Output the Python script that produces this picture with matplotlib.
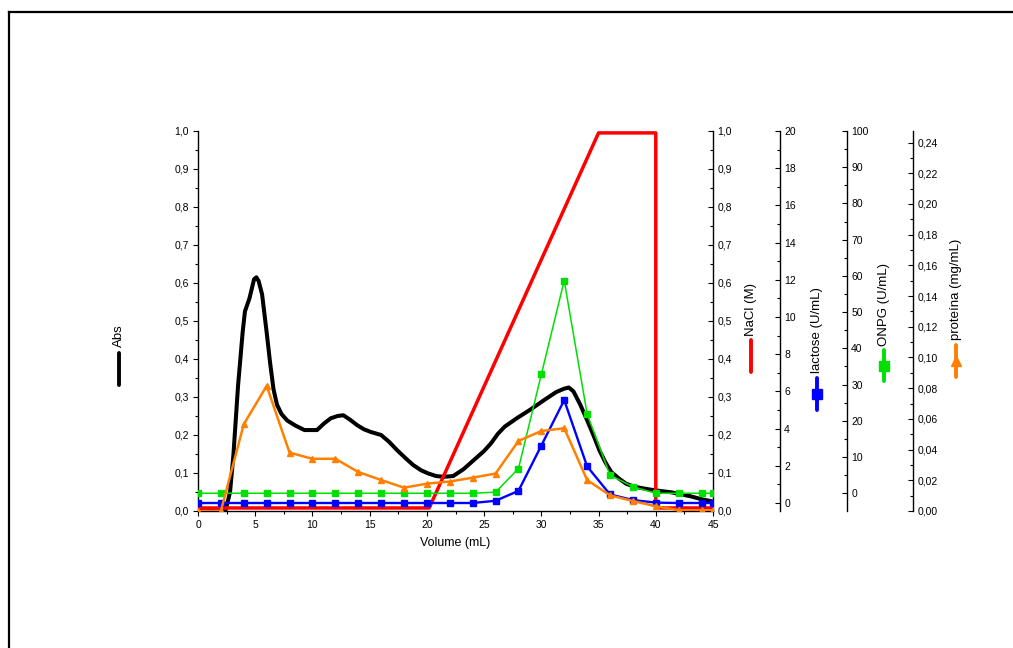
import matplotlib
matplotlib.use("Agg")
import matplotlib.pyplot as plt
from matplotlib.lines import Line2D
from matplotlib.ticker import MultipleLocator, FuncFormatter

plt.rcParams["font.family"] = ["Liberation Sans", "DejaVu Sans"]
plt.rcParams["font.size"] = 7.5

# ── data ────────────────────────────────────────────────────────────────────
abs_x = [0, 2.4, 2.8, 3.1, 3.5, 3.9, 4.1, 4.5, 4.9, 5.1, 5.3, 5.6, 6.0, 6.3, 6.6,
         6.9, 7.3, 7.8, 8.5, 9.3, 10.4, 11.0, 11.6, 12.2, 12.7, 13.3, 13.9, 14.5,
         15.1, 16.0, 16.7, 17.4, 18.1, 18.8, 19.5, 20.1, 20.8, 21.5, 22.3, 23.2,
         24.1, 25.0, 25.6, 26.2, 26.8, 27.9, 29.0, 30.2, 31.3, 32.0, 32.4, 32.8,
         33.4, 34.0, 34.6, 35.1, 35.6, 36.1, 36.8, 37.4, 38.1, 39.0, 39.8, 40.6,
         41.4, 42.0, 43.0, 44.0, 45.0]
abs_y = [0.0, 0.0, 0.05, 0.15, 0.33, 0.47, 0.525, 0.56, 0.61, 0.615, 0.605, 0.57,
         0.47, 0.39, 0.32, 0.28, 0.255, 0.238, 0.225, 0.213, 0.213, 0.23, 0.244,
         0.25, 0.252, 0.24, 0.226, 0.215, 0.208, 0.2, 0.182, 0.16, 0.14, 0.121,
         0.107, 0.099, 0.092, 0.09, 0.092, 0.11, 0.134, 0.158, 0.178, 0.203, 0.222,
         0.245, 0.266, 0.291, 0.313, 0.322, 0.325, 0.315, 0.28, 0.239, 0.196,
         0.158, 0.128, 0.103, 0.085, 0.072, 0.064, 0.059, 0.055, 0.052, 0.049,
         0.045, 0.039, 0.031, 0.025]

nacl_x = [0, 20.2, 35, 40, 40, 45]
nacl_y = [0.008, 0.008, 0.995, 0.995, 0.008, 0.008]

frac_x = [0, 2, 4, 6, 8, 10, 12, 14, 16, 18, 20, 22, 24, 26, 28, 30, 32, 34, 36,
          38, 40, 42, 44, 45]
lactose = [0, 0, 0, 0, 0, 0, 0, 0, 0, 0, 0, 0, 0, 0.12, 0.65, 3.09, 5.53, 1.97,
           0.46, 0.16, 0.02, 0, 0, 0]
onpg = [0, 0, 0, 0, 0, 0, 0, 0, 0, 0, 0, 0, 0, 0.3, 6.8, 32.8, 58.7, 21.9, 5.0,
        1.8, 0, 0, 0, 0]
proteina = [0.0, 0.0, 0.0565, 0.0815, 0.038, 0.034, 0.034, 0.0254, 0.0202, 0.0152,
            0.0178, 0.0192, 0.0217, 0.0244, 0.0456, 0.0521, 0.0539, 0.0202, 0.0102,
            0.0065, 0.0031, 0.0005, 0.0005, 0.0005]

W, H = 1013, 648


def fx(px):
    return px / W


def fy(py):
    return 1 - py / H


def comma(fmt):
    return FuncFormatter(lambda v, _: (fmt % v).replace(".", ","))


fig = plt.figure(figsize=(W / 100, H / 100), dpi=100)
ax = fig.add_axes([fx(198), fy(511), fx(713) - fx(198), fy(131) - fy(511)])

tick_kw = dict(length=3.6, width=0.8, labelsize=7.5)
minor_kw = dict(length=2.0, width=0.8)

# main Abs axis
ax.plot(abs_x, abs_y, color="black", lw=2.9, solid_joinstyle="round")
ax.set_xlim(0, 45)
ax.set_ylim(0, 1.0)
for s in ("top", "right"):
    ax.spines[s].set_visible(False)
for s in ("left", "bottom"):
    ax.spines[s].set_linewidth(1.0)
ax.xaxis.set_major_locator(MultipleLocator(5))
ax.xaxis.set_minor_locator(MultipleLocator(2.5))
ax.yaxis.set_major_locator(MultipleLocator(0.1))
ax.yaxis.set_minor_locator(MultipleLocator(0.05))
ax.yaxis.set_major_formatter(comma("%.1f"))
ax.tick_params(which="major", direction="out", pad=3, **tick_kw)
ax.tick_params(which="minor", direction="out", **minor_kw)
ax.set_xlabel("Volume (mL)", fontsize=9, labelpad=5)


def extra_axis(offset_px, ylim, major, minor, fmt):
    a = ax.twinx()
    a.set_ylim(*ylim)
    for s in ("top", "bottom", "left"):
        a.spines[s].set_visible(False)
    a.spines["right"].set_position(("outward", offset_px * 0.72))
    a.spines["right"].set_linewidth(1.0)
    a.yaxis.set_major_locator(MultipleLocator(major))
    a.yaxis.set_minor_locator(MultipleLocator(minor))
    a.yaxis.set_major_formatter(fmt)
    a.tick_params(which="major", direction="in", pad=3, **tick_kw)
    a.tick_params(which="minor", direction="in", **minor_kw)
    return a


ax_nacl = extra_axis(0, (0, 1.0), 0.1, 0.05, comma("%.1f"))
ax_lac = extra_axis(67, (-0.43, 20), 2, 1, FuncFormatter(lambda v, _: "%d" % round(v)))
ax_onpg = extra_axis(134, (-4.9, 100), 10, 5, FuncFormatter(lambda v, _: "%d" % round(v)))
ax_prot = extra_axis(200, (0, 0.2475), 0.02, 0.01, comma("%.2f"))

ax_nacl.plot(nacl_x, nacl_y, color="#ff0000", lw=2.5)
ax_lac.plot(frac_x, lactose, color="#0000ff", lw=1.7, marker="s", ms=3.8)
ax_onpg.plot(frac_x, onpg, color="#00e000", lw=1.1, marker="s", ms=3.8)
ax_prot.plot(frac_x, proteina, color="#ff8000", lw=1.8, marker="^", ms=5)

# Origin-style axis titles with a legend symbol underneath
labels = [
    ("Abs", 119, 336, 353, 385, "black", None),
    ("NaCl (M)", 751, 309, 340, 372, "#ff0000", None),
    ("lactose (U/mL)", 817, 330, 378, 410, "#0000ff", "s"),
    ("ONPG (U/mL)", 884, 304, 350, 381, "#00e000", "s"),
    ("proteína (mg/mL)", 956, 289, 345, 377, "#ff8000", "^"),
]
for text, x, ty, y1, y2, col, mk in labels:
    fig.text(fx(x), fy(ty), text, rotation=90, ha="center", va="center", fontsize=9.5)
    fig.add_artist(Line2D([fx(x), fx(x)], [fy(y1), fy(y2)], color=col, lw=2.8,
                          solid_capstyle="round", transform=fig.transFigure))
    if mk:
        fig.add_artist(Line2D([fx(x)], [fy((y1 + y2) / 2)], color=col, marker=mk,
                              ms=7, lw=0, transform=fig.transFigure))

# page frame (top and left edges visible)
fig.add_artist(Line2D([fx(9), fx(9)], [fy(12), 0], color="black", lw=1.6,
                      transform=fig.transFigure))
fig.add_artist(Line2D([fx(9), 1], [fy(12), fy(12)], color="black", lw=1.6,
                      transform=fig.transFigure))

fig.savefig("out.png", dpi=100)
